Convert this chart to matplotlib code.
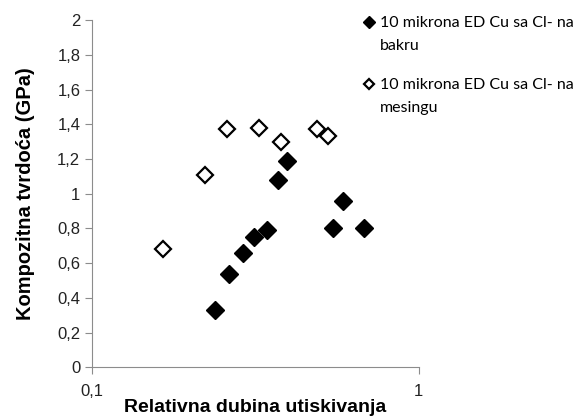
import matplotlib.pyplot as plt
from matplotlib.ticker import FixedLocator, FixedFormatter, NullLocator

# data
bakru_x = [0.238, 0.262, 0.290, 0.313, 0.342, 0.370, 0.395, 0.546, 0.588, 0.680]
bakru_y = [0.33, 0.54, 0.66, 0.75, 0.79, 1.08, 1.19, 0.80, 0.96, 0.80]

mesingu_x = [0.165, 0.222, 0.258, 0.325, 0.378, 0.489, 0.529]
mesingu_y = [0.68, 1.11, 1.37, 1.38, 1.30, 1.37, 1.33]

labels = ['10 mikrona ED Cu sa Cl- na\nbakru', '10 mikrona ED Cu sa Cl- na\nmesingu']
y_ticks = [0, 0.2, 0.4, 0.6, 0.8, 1, 1.2, 1.4, 1.6, 1.8, 2]

plt.rcParams['font.family'] = ['Liberation Sans', 'DejaVu Sans']

fig = plt.figure(figsize=(5.76, 4.18), dpi=100)
ax = fig.add_axes([0.16, 0.121, 0.567, 0.831])

ax.plot(bakru_x, bakru_y, 'D', color='black', markersize=9, linestyle='none', label=labels[0])
ax.plot(mesingu_x, mesingu_y, 'D', markerfacecolor='white', markeredgecolor='black',
        markeredgewidth=1.6, markersize=8.5, linestyle='none', label=labels[1])

ax.set_xscale('log')
ax.set_xlim(0.1, 1)
ax.set_ylim(0, 2)
ax.xaxis.set_major_locator(FixedLocator([0.1, 1]))
ax.xaxis.set_major_formatter(FixedFormatter(['0,1', '1']))
ax.xaxis.set_minor_locator(NullLocator())
ax.set_yticks(y_ticks)
ax.set_yticklabels([('%g' % t).replace('.', ',') for t in y_ticks])

for s in ['top', 'right']:
    ax.spines[s].set_visible(False)
for s in ['left', 'bottom']:
    ax.spines[s].set_color('#8c8c8c')
ax.tick_params(direction='out', length=5, color='#8c8c8c', labelsize=12, labelcolor='#222222')
ax.tick_params(axis='x', pad=7)

ax.set_xlabel('Relativna dubina utiskivanja', fontsize=14, fontweight='bold', labelpad=0)
ax.set_ylabel('Kompozitna tvrdoća (GPa)', fontsize=14.5, fontweight='bold', labelpad=16)

leg = fig.legend(loc='upper left', bbox_to_anchor=(0.605, 0.995), frameon=False,
                 prop={'family': 'Lato', 'size': 11.5}, handletextpad=0.25,
                 labelspacing=1.6, markerscale=0.65, handlelength=0.8)
for t in leg.get_texts():
    t.set_linespacing(1.75)
# put the marker next to the first line of each label
for col in leg._legend_handle_box.get_children():
    for row in col.get_children():
        row.align = 'top'

fig.savefig('out.png', dpi=100)
